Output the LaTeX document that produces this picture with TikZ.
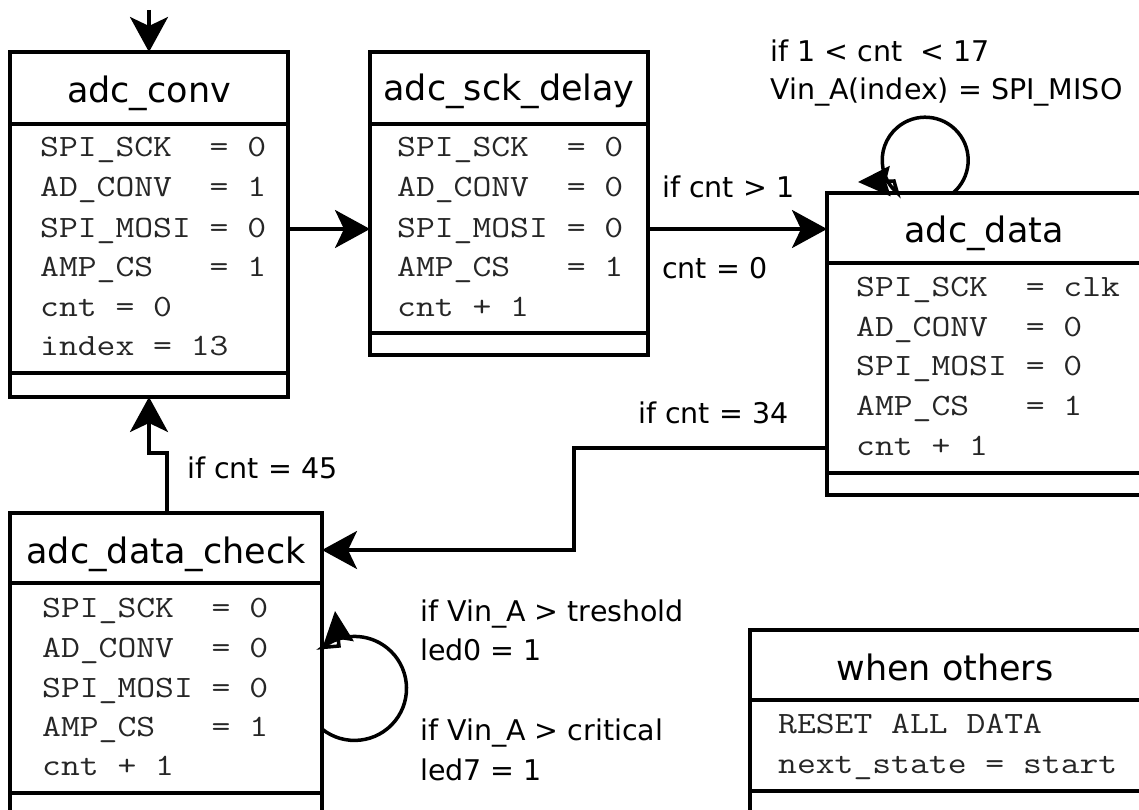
\documentclass[tikz,border=0pt]{standalone}
\usepackage{fontspec}
\usepackage{graphicx}
\setmainfont{DejaVu Sans}
\usetikzlibrary{arrows.meta}
\newcommand{\mtext}[1]{\scalebox{1.18}[1]{#1}}
\begin{document}
\begin{tikzpicture}[x=1pt,y=-1pt,
  frame/.style={draw, line width=4pt, rectangle, inner sep=0pt, outer sep=0pt, anchor=north west},
  sepline/.style={line width=4pt},
  ttl/.style={font=\fontsize{35}{40}\selectfont, anchor=base, inner sep=0pt},
  mono/.style={font=\ttfamily\fontsize{31}{38}\selectfont, text=black!85, anchor=base west, inner sep=0pt},
  lbl/.style={font=\fontsize{28.5}{32}\selectfont, anchor=base west, inner sep=0pt},
  tipstyle/.style={-{Stealth[length=35pt,width=38pt,inset=9pt]}},
  arr/.style={line width=3.5pt, tipstyle},
  looparr/.style={line width=3.5pt, -{Stealth[length=32pt,width=30pt,inset=4pt]}},
]
\clip (0,0) rectangle (1139,810);
\fill[white] (0,0) rectangle (1139,810);

% frames
\node[frame, minimum width=278pt, minimum height=345pt] (conv) at (10,52) {};
\node[frame, minimum width=278pt, minimum height=303pt] (delay) at (370,52) {};
\node[frame, minimum width=340pt, minimum height=302pt] (data) at (827,193) {};
\node[frame, minimum width=312pt, minimum height=320pt] (check) at (10,513) {};
\node[frame, minimum width=400pt, minimum height=200pt] (others) at (750,630) {};

% separators
\draw[sepline] (conv.west |- 0,124) -- (conv.east |- 0,124);
\draw[sepline] (conv.west |- 0,373) -- (conv.east |- 0,373);
\draw[sepline] (delay.west |- 0,124) -- (delay.east |- 0,124);
\draw[sepline] (delay.west |- 0,333) -- (delay.east |- 0,333);
\draw[sepline] (data.west |- 0,263) -- (data.east |- 0,263);
\draw[sepline] (data.west |- 0,473) -- (data.east |- 0,473);
\draw[sepline] (check.west |- 0,583) -- (check.east |- 0,583);
\draw[sepline] (check.west |- 0,793) -- (check.east |- 0,793);
\draw[sepline] (others.west |- 0,700) -- (others.east |- 0,700);
\draw[sepline] (others.west |- 0,791) -- (others.east |- 0,791);

% titles
\node[ttl] (conv-t) at (149,103) {adc\_conv};
\node[ttl] (delay-t) at (509,101) {adc\_sck\_delay};
\node[ttl] (data-t) at (984,243) {adc\_data};
\node[ttl] (check-t) at (166,563) {adc\_data\_check};
\node[ttl] (others-t) at (945,680) {when others};

% adc_conv body
\node[mono] (conv-1) at (40,157) {\mtext{SPI\_SCK~~=~0}};
\node[mono] (conv-2) at (40,197) {\mtext{AD\_CONV~~=~1}};
\node[mono] (conv-3) at (40,237) {\mtext{SPI\_MOSI~=~0}};
\node[mono] (conv-4) at (40,276) {\mtext{AMP\_CS~~~=~1}};
\node[mono] (conv-5) at (40,316) {\mtext{cnt~=~0}};
\node[mono] (conv-6) at (40,355) {\mtext{index~=~13}};

% adc_sck_delay body
\node[mono] (delay-1) at (397,157) {\mtext{SPI\_SCK~~=~0}};
\node[mono] (delay-2) at (397,197) {\mtext{AD\_CONV~~=~0}};
\node[mono] (delay-3) at (397,237) {\mtext{SPI\_MOSI~=~0}};
\node[mono] (delay-4) at (397,276) {\mtext{AMP\_CS~~~=~1}};
\node[mono] (delay-5) at (397,316) {\mtext{cnt~+~1}};

% adc_data body
\node[mono] (data-1) at (856,296) {\mtext{SPI\_SCK~~=~clk}};
\node[mono] (data-2) at (856,336) {\mtext{AD\_CONV~~=~0}};
\node[mono] (data-3) at (856,375) {\mtext{SPI\_MOSI~=~0}};
\node[mono] (data-4) at (856,415) {\mtext{AMP\_CS~~~=~1}};
\node[mono] (data-5) at (856,455) {\mtext{cnt~+~1}};

% adc_data_check body
\node[mono] (check-1) at (42,617) {\mtext{SPI\_SCK~~=~0}};
\node[mono] (check-2) at (42,657) {\mtext{AD\_CONV~~=~0}};
\node[mono] (check-3) at (42,697) {\mtext{SPI\_MOSI~=~0}};
\node[mono] (check-4) at (42,736) {\mtext{AMP\_CS~~~=~1}};
\node[mono] (check-5) at (42,775) {\mtext{cnt~+~1}};

% when others body
\node[mono] (others-1) at (778,733) {\mtext{RESET~ALL~DATA}};
\node[mono] (others-2) at (778,773) {\mtext{next\_state~=~start}};

% labels
\node[lbl] (l-gt1) at (662,198) {if cnt > 1};
\node[lbl] (l-cnt0) at (662,278) {cnt = 0};
\node[lbl] (l-loop1) at (770,62) {if 1 < cnt~~< 17};
\node[lbl] (l-loop2) at (770,100) {Vin\_A(index) = SPI\_MISO};
\node[lbl] (l-34) at (638,423) {if cnt = 34};
\node[lbl] (l-45) at (187,478) {if cnt = 45};
\node[lbl] (l-th) at (420,621) {if Vin\_A > treshold};
\node[lbl] (l-led0) at (420,660) {led0 = 1};
\node[lbl] (l-cr) at (420,740) {if Vin\_A > critical};
\node[lbl] (l-led7) at (420,780) {led7 = 1};

% connectors
\coordinate (init) at (149,10);
\draw[arr] (init) -- (conv.north);
\draw[arr] (conv.east |- 0,229) -- (delay.west |- 0,229);
\draw[arr] (delay.east |- 0,229) -- (data.west |- 0,229);
\draw[arr] (data.west |- 0,448) -- (574,448) -- (574,550) -- (check.east |- 0,550);
\draw[arr] (check.north -| 167,0) -- (167,453) -- (149,453) -- (conv.south -| 149,0);
\draw[looparr] (data.north -| 953,0) arc[start angle=49.7, end angle=-229.7, radius=43] -- (894,181) -- (858,182);
\draw[looparr] (check.east |- 0,729) arc[start angle=128.7, end angle=-128, radius=52] -- (339,646) -- (335,611);
\end{tikzpicture}
\end{document}
